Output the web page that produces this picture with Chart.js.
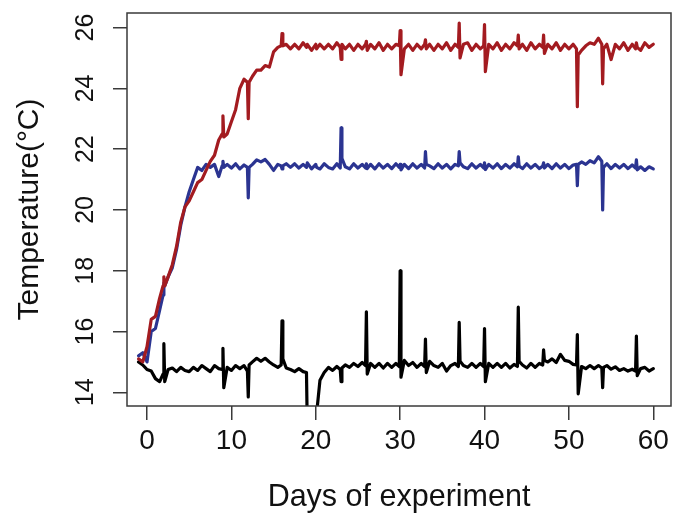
<!DOCTYPE html>
<html>
<head>
<meta charset="utf-8">
<script src="https://cdn.jsdelivr.net/npm/chart.js@4.4.1/dist/chart.umd.min.js"></script>
<style>
  html, body { margin: 0; padding: 0; background: #fff; }
</style>
</head>
<body>
<canvas id="myChart" width="674" height="518"></canvas>
<script>
// Sampling days (half-day steps, plus extra points around the short spikes)
const days = [
  -1, -0.5, 0, 0.5, 1, 1.5, 1.9, 2, 2.1, 2.5,
  3, 3.5, 4, 4.5, 5, 5.5, 6, 6.5, 7, 7.5, 8, 8.5,
  8.9, 9, 9.1, 9.5, 10, 10.5, 11, 11.5, 11.9, 12, 12.1, 12.5,
  13, 13.5, 14, 14.5, 15, 15.5, 15.9, 16, 16.1, 16.5,
  17, 17.5, 18, 18.5, 18.9, 19, 19.5, 20, 20.1, 20.5, 21,
  21.5, 22, 22.5, 22.9, 23, 23.1, 23.5, 24, 24.5, 25, 25.5,
  25.9, 26, 26.1, 26.5, 27, 27.5, 28, 28.5, 29, 29.5,
  29.9, 30, 30.1, 30.5, 31, 31.5, 32, 32.5,
  32.9, 33, 33.1, 33.5, 34, 34.5, 35, 35.5, 36, 36.5,
  36.9, 37, 37.1, 37.5, 38, 38.5, 39, 39.5,
  39.9, 40, 40.1, 40.5, 41, 41.5, 42, 42.5, 43, 43.5,
  43.9, 44, 44.1, 44.5, 45, 45.5, 46, 46.5,
  46.9, 47, 47.1, 47.5, 48, 48.5, 49, 49.5, 50, 50.5,
  50.9, 51, 51.1, 51.5, 52, 52.5, 53, 53.5,
  53.9, 54, 54.1, 54.5, 55, 55.5, 56, 56.5, 57, 57.5,
  57.9, 58, 58.1, 58.5, 59, 59.5, 60
];

// red tank
const tempHigh = [
  15.1, 15.0, 15.5, 16.4, 16.5, 17.1, 17.5, 17.8, 17.5, 17.8,
  18.2, 18.8, 19.6, 20.1, 20.3, 20.6, 20.9, 21.0, 21.3, 21.6, 21.8, 22.3,
  22.5, 23.1, 22.4, 22.5, 22.9, 23.3, 24.0, 24.3, 24.2, 23.0, 24.2, 24.4,
  24.6, 24.6, 24.75, 24.7, 25.2, 25.35, 25.4, 25.8, 25.4, 25.45,
  25.3, 25.45, 25.3, 25.5, 25.35, 25.45, 25.25, 25.45, 25.3, 25.45, 25.3,
  25.45, 25.3, 25.5, 25.35, 24.95, 25.45, 25.3, 25.45, 25.25, 25.45, 25.3,
  25.45, 25.55, 25.25, 25.45, 25.3, 25.5, 25.25, 25.45, 25.3, 25.45,
  25.4, 25.9, 24.45, 25.3, 25.45, 25.25, 25.45, 25.3,
  25.45, 25.6, 25.3, 25.45, 25.25, 25.45, 25.3, 25.5, 25.25, 25.45,
  25.35, 26.15, 25.0, 25.45, 25.5, 25.25, 25.45, 25.3,
  25.4, 26.1, 24.55, 25.45, 25.3, 25.5, 25.25, 25.45, 25.3, 25.5,
  25.4, 25.75, 25.3, 25.45, 25.25, 25.5, 25.3, 25.45,
  25.35, 25.75, 25.15, 25.45, 25.3, 25.5, 25.25, 25.45, 25.3, 25.45,
  25.3, 23.4, 25.1, 25.25, 25.4, 25.5, 25.45, 25.65,
  25.45, 24.15, 25.3, 25.45, 24.95, 25.45, 25.3, 25.5, 25.25, 25.45,
  25.3, 25.5, 25.35, 25.25, 25.5, 25.35, 25.45
];

// blue tank
const tempMid = [
  15.2, 15.3, 15.0, 16.0, 16.1, 16.7, 17.2, 17.6, 17.5, 17.8,
  18.1, 18.7, 19.5, 20.1, 20.6, 21.0, 21.4, 21.3, 21.5, 21.4, 21.5, 21.1,
  21.45, 21.6, 21.4, 21.5, 21.38, 21.52, 21.35, 21.48, 21.4, 20.4, 21.4, 21.5,
  21.65, 21.58, 21.66, 21.5, 21.3, 21.5, 21.45, 21.35, 21.45, 21.52,
  21.4, 21.52, 21.38, 21.5, 21.4, 21.55, 21.35, 21.5, 21.4, 21.35, 21.52,
  21.4, 21.35, 21.52, 21.38, 22.7, 21.7, 21.42, 21.35, 21.52, 21.38, 21.5,
  21.38, 21.52, 21.36, 21.5, 21.35, 21.52, 21.38, 21.5, 21.36, 21.52,
  21.4, 21.5, 21.32, 21.5, 21.36, 21.52, 21.38, 21.5,
  21.38, 21.92, 21.5, 21.45, 21.36, 21.52, 21.38, 21.5, 21.35, 21.5,
  21.45, 21.92, 21.55, 21.42, 21.36, 21.52, 21.38, 21.5,
  21.38, 21.55, 21.33, 21.5, 21.38, 21.52, 21.36, 21.5, 21.38, 21.52,
  21.42, 21.75, 21.45, 21.36, 21.52, 21.38, 21.5, 21.36,
  21.45, 21.55, 21.38, 21.5, 21.36, 21.52, 21.38, 21.5, 21.36, 21.48,
  21.5, 20.8, 21.5, 21.58, 21.5, 21.62, 21.55, 21.75,
  21.6, 20.0, 21.4, 21.52, 21.36, 21.5, 21.38, 21.5, 21.36, 21.48,
  21.38, 21.65, 21.32, 21.42, 21.3, 21.42, 21.35
];

// black tank (ambient)
const tempLow = [
  15.0, 14.9, 14.75, 14.7, 14.45, 14.35, 14.6, 15.6, 14.35, 14.75,
  14.8, 14.68, 14.82, 14.72, 14.68, 14.82, 14.72, 14.88, 14.78, 14.68, 14.88, 14.78,
  14.75, 15.45, 14.15, 14.82, 14.72, 14.88, 14.78, 14.88, 14.7, 13.85, 14.9, 15.0,
  15.12, 15.02, 15.12, 15.0, 14.9, 14.82, 14.9, 16.35, 15.1, 14.8,
  14.75, 14.68, 14.78, 14.68, 14.65, 12.8, 12.6, 12.8, 13.3, 14.4, 14.65,
  14.82, 14.72, 14.85, 14.75, 14.35, 14.8, 14.9, 14.82, 14.95, 14.85, 14.98,
  14.88, 16.65, 14.6, 14.95, 14.82, 14.95, 14.8, 14.95, 14.82, 14.95,
  14.85, 18.0, 14.5, 15.05, 14.88, 14.98, 14.82, 14.95,
  14.85, 15.75, 14.65, 15.02, 14.88, 14.82, 14.95, 14.7, 14.88, 14.95,
  14.85, 16.3, 15.02, 14.88, 14.82, 14.95, 14.82, 14.95,
  14.85, 16.1, 14.35, 14.95, 14.82, 14.95, 14.82, 14.95, 14.8, 14.92,
  14.85, 16.8, 15.02, 14.9, 14.8, 14.95, 14.82, 14.95,
  14.9, 15.4, 15.05, 15.0, 15.1, 14.98, 15.25, 15.05, 15.02, 14.92,
  14.9, 15.9, 13.95, 14.85, 14.78, 14.88, 14.78, 14.88,
  14.8, 14.15, 14.82, 14.88, 14.76, 14.84, 14.72, 14.78, 14.7, 14.76,
  14.7, 15.85, 14.55, 14.78, 14.82, 14.7, 14.78
];

const xTicks = [0, 10, 20, 30, 40, 50, 60];
const yTicks = [14, 16, 18, 20, 22, 24, 26];

[tempHigh, tempMid, tempLow].forEach((s, i) => {
  if (s.length !== days.length) throw new Error('series ' + i + ' has ' + s.length + ' values, days has ' + days.length);
});

const toPoints = vals => days.map((d, i) => ({ x: d, y: vals[i] }));
const FONT = '"Liberation Sans", Arial, Helvetica, sans-serif';

// box around the plot region, like R's box()
const plotBox = {
  id: 'plotBox',
  afterDatasetsDraw(chart) {
    const { ctx, chartArea: a } = chart;
    ctx.save();
    ctx.strokeStyle = '#3a3a3a';
    ctx.lineWidth = 1.5;
    ctx.strokeRect(a.left, a.top, a.right - a.left, a.bottom - a.top);
    ctx.restore();
  }
};

const ctx = document.getElementById('myChart').getContext('2d');
new Chart(ctx, {
  type: 'line',
  data: {
    datasets: [
      { data: toPoints(tempHigh), borderColor: '#a31b20' },
      { data: toPoints(tempMid), borderColor: '#2b3491' },
      { data: toPoints(tempLow), borderColor: '#000000' }
    ]
  },
  options: {
    responsive: false,
    animation: false,
    devicePixelRatio: 1,
    layout: { padding: { top: 13, right: 3, left: 0, bottom: 0 } },
    elements: {
      point: { radius: 0 },
      line: { borderWidth: 3.2, tension: 0, borderJoinStyle: 'round', borderCapStyle: 'round' }
    },
    plugins: { legend: { display: false }, tooltip: { enabled: false } },
    scales: {
      x: {
        type: 'linear',
        min: -2.37,
        max: 62.1,
        afterBuildTicks: s => { s.ticks = xTicks.map(v => ({ value: v })); },
        afterFit: s => { s.height = 112; s.paddingLeft = 0; s.paddingRight = 0; },
        grid: { display: true, drawOnChartArea: false, drawTicks: true, tickLength: 14, color: '#3a3a3a', lineWidth: 1.5 },
        border: { display: false },
        ticks: { font: { family: FONT, size: 28 }, color: '#111', padding: 4, maxRotation: 0, autoSkip: false },
        title: { display: true, text: 'Days of experiment', font: { family: FONT, size: 30.5 }, color: '#111', padding: { top: 0, bottom: 2 } }
      },
      y: {
        min: 13.55,
        max: 26.48,
        afterBuildTicks: s => { s.ticks = yTicks.map(v => ({ value: v })); },
        afterFit: s => { s.width = 127; s.paddingTop = 0; s.paddingBottom = 0; },
        grid: { display: true, drawOnChartArea: false, drawTicks: true, tickLength: 14, color: '#3a3a3a', lineWidth: 1.5 },
        border: { display: false },
        ticks: { font: { family: FONT, size: 25 }, color: '#111', padding: 13, minRotation: 90, maxRotation: 90, crossAlign: 'center', autoSkip: false },
        title: { display: true, text: 'Temperature(°C)', font: { family: FONT, size: 30 }, color: '#111', padding: { top: 12, bottom: 0 } }
      }
    }
  },
  plugins: [plotBox]
});
</script>
</body>
</html>
